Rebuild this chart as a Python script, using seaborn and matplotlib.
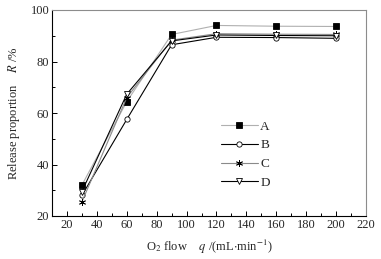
import matplotlib
matplotlib.use("Agg")
import matplotlib.pyplot as plt
import seaborn as sns
import pandas as pd
from matplotlib.ticker import MultipleLocator

sns.set_theme(style="ticks")
plt.rcParams['font.family'] = ['Liberation Serif', 'DejaVu Serif']
plt.rcParams['mathtext.fontset'] = 'stix'

flow = [30, 60, 90, 120, 160, 200]
series_names = ["A", "B", "C", "D"]
A = [32.0, 64.4, 90.5, 94.0, 93.7, 93.6]
B = [28.0, 57.5, 86.5, 89.4, 89.3, 89.0]
C = [25.5, 66.0, 88.3, 90.8, 90.6, 90.5]
D = [29.5, 67.3, 88.0, 90.3, 90.1, 90.0]
values = {"A": A, "B": B, "C": C, "D": D}

rows = []
for name in series_names:
    for x, y in zip(flow, values[name]):
        rows.append({"flow": x, "R": y, "series": name})
df = pd.DataFrame(rows)

styles = {
    "A": dict(color="#b0b0b0", marker="s", mfc="black", mec="black", ms=3.8),
    "B": dict(color="black", marker="o", mfc="white", mec="black", ms=3.8),
    "C": dict(color="#8a8a8a", marker=(6, 2, 0), mfc="black", mec="black", ms=5),
    "D": dict(color="black", marker="v", mfc="white", mec="black", ms=4.2),
}

fig = plt.figure(figsize=(3.81, 2.59), dpi=100)
ax = fig.add_axes([52/381, 43/259, 314/381, 206/259])

for name in series_names:
    st = styles[name]
    sub = df[df["series"] == name]
    sns.lineplot(data=sub, x="flow", y="R", ax=ax, color=st["color"], lw=0.8,
                 marker=st["marker"], markerfacecolor=st["mfc"],
                 markeredgecolor=st["mec"], markersize=st["ms"], markeredgewidth=0.6,
                 label=name)

ax.set_xlim(10, 220)
ax.set_ylim(20, 100)
ax.xaxis.set_major_locator(MultipleLocator(20))
ax.xaxis.set_minor_locator(MultipleLocator(10))
ax.yaxis.set_major_locator(MultipleLocator(20))
ax.yaxis.set_minor_locator(MultipleLocator(10))
ax.tick_params(which="both", direction="in", labelsize=9, pad=2, width=0.7, color="black")
ax.tick_params(which="major", length=3.5)
ax.tick_params(which="minor", length=2)
ax.tick_params(top=False, right=False, which="both")
ax.set_xticks([20, 40, 60, 80, 100, 120, 140, 160, 180, 200, 220])

for side in ["left", "bottom"]:
    ax.spines[side].set_color("black")
    ax.spines[side].set_linewidth(0.8)
for side in ["top", "right"]:
    ax.spines[side].set_color("#8c8c8c")
    ax.spines[side].set_linewidth(0.8)

ax.set_xlabel(r"O$_2$ flow    $q$ /(mL$\cdot$min$^{-1}$)", fontsize=9, labelpad=5)
ax.set_ylabel(r"Release proportion    $R$ /%", fontsize=9, labelpad=6)

leg = ax.legend(loc="upper left", bbox_to_anchor=(0.52, 0.49), frameon=False,
                fontsize=9.5, handlelength=2.8, labelspacing=0.5, handletextpad=0.2,
                borderaxespad=0)

fig.savefig("out.png", dpi=100)
